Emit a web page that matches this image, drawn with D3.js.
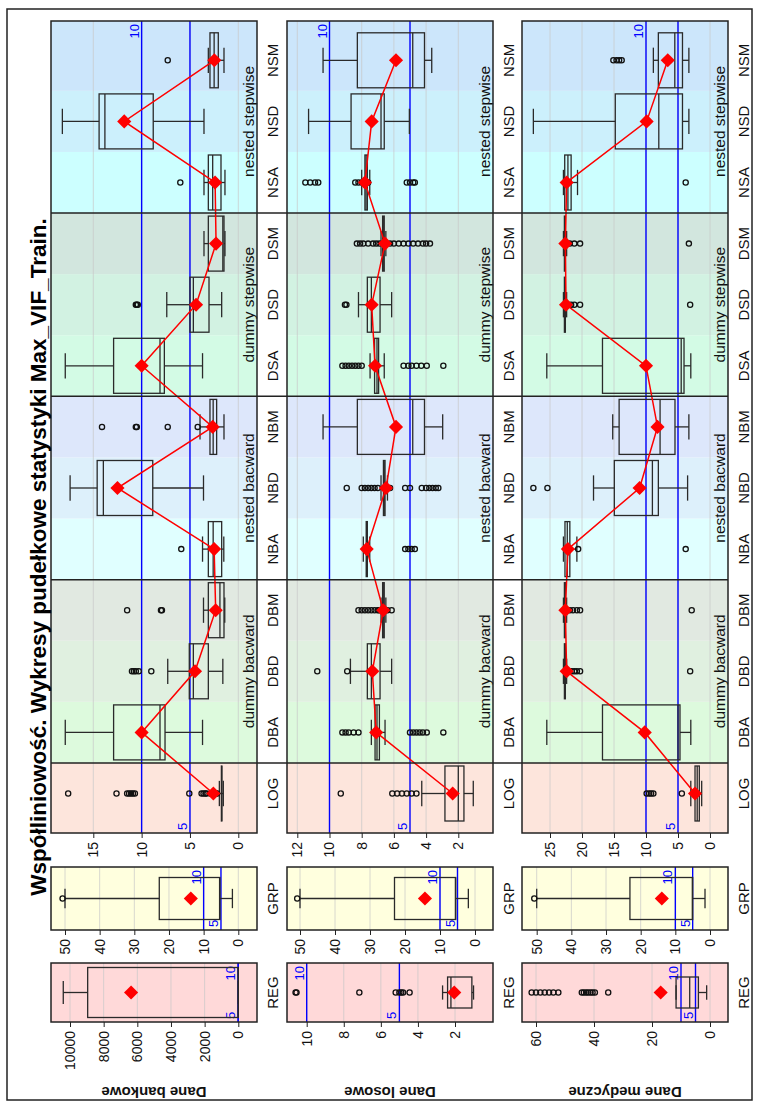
<!DOCTYPE html>
<html lang="pl">
<head>
<meta charset="UTF-8">
<title>Max_VIF_Train</title>
<script src="https://cdnjs.cloudflare.com/ajax/libs/d3/7.8.5/d3.min.js"></script>
<style>
  body { margin: 0; background: #fff; }
  svg { display: block; font-family: "Liberation Sans", Arial, sans-serif; }
</style>
</head>
<body>
<svg id="chart" width="759" height="1109"></svg>
<script>
// ---- data ----
const categories = ["LOG", "DBA", "DBD", "DBM", "NBA", "NBD", "NBM", "DSA", "DSD", "DSM", "NSA", "NSD", "NSM"];
const groupLabels = ["dummy bacward", "nested bacward", "dummy stepwise", "nested stepwise"];
const groupCenters = ["DBD", "NBD", "DSD", "NSD"];
const datasetNames = ["Dane bankowe", "Dane losowe", "Dane medyczne"];
const titleText = "Współliniowość. Wykresy pudełkowe statystyki Max_VIF_Train.";

// box stats: [lower whisker, Q1, median, Q3, upper whisker]
const bankoweBoxes = [
  [1.55, 1.7, 1.72, 1.75, 1.96], [3.7, 7.58, 8.1, 12.9, 17.9], [1.6, 3.1, 4.65, 5.07, 7.3],
  [1.4, 1.48, 1.9, 3.1, 3.6], [1.5, 1.72, 2.6, 3.1, 3.7], [3.6, 8.85, 13.96, 14.6, 17.4],
  [1.48, 2.24, 2.6, 2.93, 3.96], [3.7, 7.65, 8.1, 12.9, 17.9], [1.72, 3.03, 4.65, 5.0, 7.4],
  [1.38, 1.48, 1.6, 3.1, 3.55], [1.38, 1.79, 2.65, 3.1, 3.55], [3.55, 8.8, 13.8, 14.4, 18.2],
  [1.48, 2.07, 2.5, 2.93, 3.1]
];
const bankoweMeans = [2.58, 10.0, 4.48, 2.34, 2.5, 12.5, 2.65, 10.0, 4.37, 2.3, 2.4, 11.8, 2.48];
const bankoweOutliers = [
  [17.6, 12.6, 11.5, 11.3, 11.1, 10.9, 10.7, 5.07, 3.8, 3.6, 3.4, 3.3, 2.9, 2.7, 2.5, 2.3, 2.2],
  [], [11.0, 10.8, 10.6, 10.3, 9.0], [11.5, 8.0, 7.9], [5.9], [], [14.1, 10.6, 10.5, 7.3, 4.2],
  [], [10.6, 10.5, 10.4], [], [6.0], [], [7.3]
];
const bankoweReg = [1.2, 3, 5, 8950, 10400];
const bankoweRegMean = 6370;
const bankoweRegOutliers = [];
const bankoweGrp = [1.7, 5.3, 5.4, 22.8, 50];
const bankoweGrpMean = 13.7;
const bankoweGrpOutliers = [50.7];

const losoweBoxes = [
  [1.07, 1.65, 2.0, 2.83, 4.27], [6.55, 6.9, 7.05, 7.17, 7.4], [6.14, 6.86, 7.4, 7.65, 8.7],
  [6.5, 6.6, 6.66, 6.7, 6.8], [7.5, 7.65, 7.69, 7.72, 7.9], [6.4, 6.55, 6.6, 6.65, 6.8],
  [2.97, 4.1, 4.83, 8.27, 10.4], [6.6, 6.95, 7.05, 7.2, 7.48], [6.14, 6.86, 7.4, 7.65, 8.2],
  [6.5, 6.6, 6.66, 6.7, 6.8], [7.5, 7.65, 7.73, 7.8, 8.0], [5.04, 6.6, 6.8, 8.66, 11.3],
  [3.65, 4.1, 4.83, 8.27, 10.4]
];
const losoweMeans = [2.35, 7.1, 7.34, 6.66, 7.69, 6.49, 5.87, 7.17, 7.38, 6.55, 7.8, 7.38, 5.87];
const losoweOutliers = [
  [9.3, 6.1, 5.8, 5.5, 5.2, 4.9, 4.6],
  [9.2, 9.0, 8.8, 8.5, 8.2, 5.0, 4.8, 4.6, 4.4, 4.2, 3.96, 2.93],
  [10.76, 8.9],
  [8.2, 8.0, 7.8, 7.6, 7.4, 7.2, 7.0, 6.9, 6.4, 6.14],
  [5.3, 5.1, 4.9, 4.7],
  [8.93, 8.0, 7.8, 7.6, 7.4, 7.2, 7.0, 6.24, 5.3, 5.0, 4.27, 4.0, 3.8, 3.6, 3.4, 3.24],
  [],
  [9.2, 9.0, 8.8, 8.6, 8.4, 8.2, 8.0, 5.4, 5.1, 4.9, 4.6, 4.3, 3.96, 2.93],
  [9.04, 8.95],
  [8.3, 8.1, 7.9, 7.6, 7.3, 7.1, 6.9, 6.24, 6.0, 5.7, 5.4, 5.1, 4.8, 4.5, 4.2, 4.0, 3.76],
  [11.5, 11.2, 10.9, 10.7, 8.4, 8.2, 8.0, 7.6, 5.2, 5.0, 4.8, 4.7],
  [], []
];
const losoweReg = [1.0, 1.09, 2.22, 2.4, 2.67];
const losoweRegMean = 2.04;
const losoweRegOutliers = [10.6, 10.55, 7.16, 5.2, 5.0, 4.9, 4.8, 4.45];
const losoweGrp = [1.9, 5.5, 5.6, 23.0, 50];
const losoweGrpMean = 14.3;
const losoweGrpOutliers = [50.8];

const medyczneBoxes = [
  [1.3, 1.67, 2.0, 2.34, 3.0], [3.0, 4.69, 5.0, 16.8, 25.5], [22.4, 22.6, 22.7, 22.75, 22.9],
  [22.4, 22.6, 22.7, 22.75, 22.9], [20.8, 21.9, 22.3, 22.66, 22.9], [3.5, 8.07, 9.0, 14.95, 18.2],
  [3.3, 5.47, 7.8, 14.2, 15.2], [3.0, 4.06, 4.5, 16.8, 25.5], [22.4, 22.6, 22.7, 22.75, 22.9],
  [22.4, 22.6, 22.7, 22.75, 22.9], [20.7, 21.7, 22.2, 22.7, 22.9], [3.3, 4.3, 8.0, 14.8, 27.6],
  [3.3, 4.3, 5.5, 8.07, 8.85]
];
const medyczneMeans = [2.34, 10.2, 22.4, 22.6, 22.2, 11.0, 8.2, 10.0, 22.5, 22.6, 22.4, 9.9, 6.6];
const medyczneOutliers = [
  [9.9, 9.5, 9.2, 8.85, 4.4], [], [21.6, 21.2, 20.8, 20.3, 3.1], [21.9, 21.4, 20.8, 20.3, 2.86],
  [20.6, 3.8], [27.6, 25.4], [], [], [21.7, 21.2, 20.3, 3.1], [21.9, 21.2, 20.3, 3.3],
  [3.8], [], [15.1, 14.6, 14.2, 13.8]
];
const medyczneReg = [1.15, 4.0, 7.0, 11.7, 11.7];
const medyczneRegMean = 17.0;
const medyczneRegOutliers = [61.5, 60, 58.5, 57, 55.5, 54, 52.3, 44.2, 43.5, 42.7, 42, 41.2, 40.5, 39.7, 35.1];
const medyczneGrp = [1.44, 5.0, 5.1, 23.1, 50];
const medyczneGrpMean = 13.9;
const medyczneGrpOutliers = [50.7];

// tick labels
const bankoweTicks = { reg: [0, 2000, 4000, 6000, 8000, 10000], grp: [0, 10, 20, 30, 40, 50], main: [0, 5, 10, 15] };
const losoweTicks = { reg: [2, 4, 6, 8, 10], grp: [0, 10, 20, 30, 40, 50], main: [2, 4, 6, 8, 10, 12] };
const medyczneTicks = { reg: [0, 20, 40, 60], grp: [0, 10, 20, 30, 40, 50], main: [0, 5, 10, 15, 20, 25] };
const refLines = [5, 10];

// ---- style ----
const bandColors = ["#fde5dc", "#ddfadd", "#e0f0e0", "#e1e9e1", "#e0ffff", "#ddf0fb", "#dde7fb",
                    "#d3fbe5", "#d2f2e2", "#d2e6de", "#ccffff", "#ccf0fc", "#cce6fb"];
const regColor = "#ffd9d9", grpColor = "#ffffde";

// ---- layout (original landscape frame, rotated afterwards) ----
const W = 1109, H = 759;
const rowTop = [51, 287, 522], rowH = 206;
const REG = { x0: 87, x1: 146 }, GRP = { x0: 179, x1: 242 }, MAIN = { x0: 276, x1: 1088 };

const rows = [
  { name: datasetNames[0], boxes: bankoweBoxes, means: bankoweMeans, out: bankoweOutliers,
    reg: bankoweReg, regMean: bankoweRegMean, regOut: bankoweRegOutliers,
    grp: bankoweGrp, grpMean: bankoweGrpMean, grpOut: bankoweGrpOutliers, ticks: bankoweTicks,
    yReg: d3.scaleLinear().domain([0, 10000]).range([238.3, 70]),
    yGrp: d3.scaleLinear().domain([0, 50]).range([238.3, 65]),
    yMain: d3.scaleLinear().domain([0, 15]).range([238.3, 93.3]), regBoxW: 50 },
  { name: datasetNames[1], boxes: losoweBoxes, means: losoweMeans, out: losoweOutliers,
    reg: losoweReg, regMean: losoweRegMean, regOut: losoweRegOutliers,
    grp: losoweGrp, grpMean: losoweGrpMean, grpOut: losoweGrpOutliers, ticks: losoweTicks,
    yReg: d3.scaleLinear().domain([2, 10]).range([455, 306.7]),
    yGrp: d3.scaleLinear().domain([0, 50]).range([475, 300]),
    yMain: d3.scaleLinear().domain([2, 12]).range([458.3, 297.3]), regBoxW: 31 },
  { name: datasetNames[2], boxes: medyczneBoxes, means: medyczneMeans, out: medyczneOutliers,
    reg: medyczneReg, regMean: medyczneRegMean, regOut: medyczneRegOutliers,
    grp: medyczneGrp, grpMean: medyczneGrpMean, grpOut: medyczneGrpOutliers, ticks: medyczneTicks,
    yReg: d3.scaleLinear().domain([0, 60]).range([710, 536]),
    yGrp: d3.scaleLinear().domain([0, 50]).range([710, 536.7]),
    yMain: d3.scaleLinear().domain([0, 25]).range([710, 550]), regBoxW: 31 }
];

const svg = d3.select("#chart");
// draw landscape, then turn it 90 degrees counter-clockwise
const root = svg.append("g").attr("transform", `translate(0,${W}) rotate(-90)`);

root.append("rect").attr("x", 9).attr("y", 7).attr("width", 1091).attr("height", 745)
  .attr("fill", "#fff").attr("stroke", "#222").attr("stroke-width", 1.5);

const mainX = d3.scalePoint().domain(categories).range([315.5, 1048.7]);
const step = mainX.step();
const regX = d3.scaleBand().domain(["REG"]).range([REG.x0, REG.x1]);
const grpX = d3.scaleBand().domain(["GRP"]).range([GRP.x0, GRP.x1]);
const diamond = d3.symbol(d3.symbolSquare, 100);

function drawBox(g, cx, w, s, y) {
  const [lo, q1, med, q3, hi] = s;
  const cap = w * 0.46;
  const st = { stroke: "#2a2a2a", "stroke-width": 1.3 };
  const line = (x1, y1, x2, y2) => {
    const l = g.append("line").attr("x1", x1).attr("y1", y1).attr("x2", x2).attr("y2", y2);
    Object.entries(st).forEach(([k, v]) => l.attr(k, v));
  };
  line(cx, y(hi), cx, y(q3));
  line(cx, y(q1), cx, y(lo));
  line(cx - cap / 2, y(hi), cx + cap / 2, y(hi));
  line(cx - cap / 2, y(lo), cx + cap / 2, y(lo));
  g.append("rect").attr("x", cx - w / 2).attr("y", y(q3)).attr("width", w)
    .attr("height", Math.max(0.01, y(q1) - y(q3)))
    .attr("fill", "none").attr("stroke", st.stroke).attr("stroke-width", st["stroke-width"]);
  line(cx - w / 2, y(med), cx + w / 2, y(med));
}

function drawOutliers(g, cx, vals, y) {
  g.selectAll(null).data(vals).enter().append("circle")
    .attr("cx", cx).attr("cy", d => y(d)).attr("r", 2.6)
    .attr("fill", "none").attr("stroke", "#111").attr("stroke-width", 1.3);
}

function drawDiamond(g, cx, v, y) {
  g.append("path").attr("d", diamond)
    .attr("transform", `translate(${cx},${y(v)}) rotate(45)`).attr("fill", "#ff0000");
}

function frame(g, x0, x1, top, y, ticks) {
  // grid
  g.selectAll(null).data(ticks).enter().append("line")
    .attr("x1", x0).attr("x2", x1).attr("y1", d => y(d)).attr("y2", d => y(d))
    .attr("stroke", "#c8c8c8").attr("stroke-opacity", 0.7).attr("stroke-width", 1);
}

function refs(g, x0, x1, y) {
  refLines.forEach((v, i) => {
    g.append("line").attr("x1", x0).attr("x2", x1).attr("y1", y(v)).attr("y2", y(v))
      .attr("stroke", "#0000ff").attr("stroke-width", 1.4);
    g.append("text").attr("x", i === 0 ? x0 + 3 : x1 - 3).attr("y", y(v) - 3)
      .attr("text-anchor", i === 0 ? "start" : "end")
      .attr("font-size", 13).attr("fill", "#0000ff").text(v);
  });
}

function axis(g, x0, y, ticks) {
  const a = g.append("g").attr("transform", `translate(${x0},0)`)
    .call(d3.axisLeft(y).tickValues(ticks).tickSize(5).tickPadding(4).tickFormat(d3.format("d")));
  a.select(".domain").remove();
  a.selectAll("line").attr("stroke", "#222");
  a.selectAll("text").attr("font-size", 14).attr("fill", "#111")
    .attr("font-family", "Liberation Sans, Arial, sans-serif");
}

function border(g, x0, x1, top) {
  g.append("rect").attr("x", x0).attr("y", top).attr("width", x1 - x0).attr("height", rowH)
    .attr("fill", "none").attr("stroke", "#222").attr("stroke-width", 1.5);
}

function catLabel(g, x, top, txt) {
  g.append("text").attr("x", x).attr("y", top + rowH + 21).attr("text-anchor", "middle")
    .attr("font-size", 15).attr("fill", "#111").text(txt);
}

rows.forEach((r, ri) => {
  const top = rowTop[ri], bot = top + rowH;
  const g = root.append("g");

  // y title
  g.append("text").attr("transform", `translate(22,${top + rowH / 2}) rotate(-90)`)
    .attr("text-anchor", "middle").attr("font-size", 15).attr("font-weight", "bold")
    .attr("fill", "#111").text(r.name);

  // REG panel
  g.append("rect").attr("x", REG.x0).attr("y", top).attr("width", REG.x1 - REG.x0)
    .attr("height", rowH).attr("fill", regColor);
  frame(g, REG.x0, REG.x1, top, r.yReg, r.ticks.reg);
  refs(g, REG.x0, REG.x1, r.yReg);
  const rcx = regX("REG") + regX.bandwidth() / 2;
  drawBox(g, rcx, r.regBoxW, r.reg, r.yReg);
  drawOutliers(g, rcx, r.regOut, r.yReg);
  drawDiamond(g, rcx, r.regMean, r.yReg);
  border(g, REG.x0, REG.x1, top);
  axis(g, REG.x0, r.yReg, r.ticks.reg);
  catLabel(g, rcx, top, "REG");

  // GRP panel
  g.append("rect").attr("x", GRP.x0).attr("y", top).attr("width", GRP.x1 - GRP.x0)
    .attr("height", rowH).attr("fill", grpColor);
  frame(g, GRP.x0, GRP.x1, top, r.yGrp, r.ticks.grp);
  refs(g, GRP.x0, GRP.x1, r.yGrp);
  const gcx = grpX("GRP") + grpX.bandwidth() / 2;
  drawBox(g, gcx, 42, r.grp, r.yGrp);
  drawOutliers(g, gcx, r.grpOut, r.yGrp);
  drawDiamond(g, gcx, r.grpMean, r.yGrp);
  border(g, GRP.x0, GRP.x1, top);
  axis(g, GRP.x0, r.yGrp, r.ticks.grp);
  catLabel(g, gcx, top, "GRP");

  // main panel
  const n = categories.length;
  g.selectAll(null).data(categories).enter().append("rect")
    .attr("x", (c, i) => i === 0 ? MAIN.x0 : mainX(c) - step / 2)
    .attr("width", (c, i) => (i === n - 1 ? MAIN.x1 : mainX(c) + step / 2) - (i === 0 ? MAIN.x0 : mainX(c) - step / 2))
    .attr("y", top).attr("height", rowH)
    .attr("fill", (c, i) => bandColors[i]);
  frame(g, MAIN.x0, MAIN.x1, top, r.yMain, r.ticks.main);
  refs(g, MAIN.x0, MAIN.x1, r.yMain);

  categories.forEach((c, i) => {
    drawBox(g, mainX(c), 55, r.boxes[i], r.yMain);
    drawOutliers(g, mainX(c), r.out[i], r.yMain);
  });
  g.append("path").datum(r.means)
    .attr("d", d3.line().x((d, i) => mainX(categories[i])).y(d => r.yMain(d)))
    .attr("fill", "none").attr("stroke", "#ff0000").attr("stroke-width", 1.5);
  r.means.forEach((m, i) => drawDiamond(g, mainX(categories[i]), m, r.yMain));

  // group separators
  [0, 3, 6, 9].forEach(i => {
    const x = mainX(categories[i]) + step / 2;
    g.append("line").attr("x1", x).attr("x2", x).attr("y1", top)
      .attr("y2", ri < 2 ? rowTop[ri + 1] : bot)
      .attr("stroke", "#222").attr("stroke-width", 1.5);
  });
  groupLabels.forEach((lab, k) => {
    g.append("text").attr("x", mainX(groupCenters[k])).attr("y", bot - 3.5)
      .attr("text-anchor", "middle").attr("font-size", 15.5).attr("fill", "#111").text(lab);
  });

  border(g, MAIN.x0, MAIN.x1, top);
  axis(g, MAIN.x0, r.yMain, r.ticks.main);
  categories.forEach(c => catLabel(g, mainX(c), top, c));
});

// title last so its underscores stay on top of the panel edge
root.append("text").attr("x", 552).attr("y", 45.5).attr("text-anchor", "middle")
  .attr("font-size", 22.5).attr("font-weight", "bold").attr("fill", "#000").text(titleText);
</script>
</body>
</html>
